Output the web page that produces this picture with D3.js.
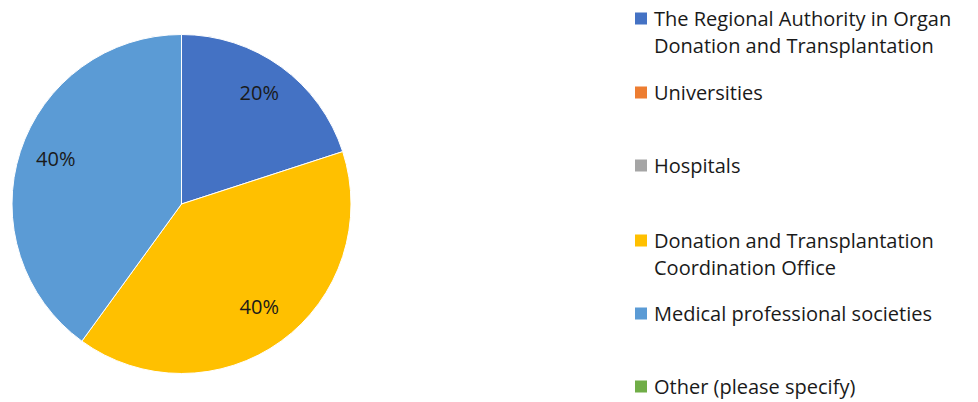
<!DOCTYPE html>
<html>
<head>
<meta charset="utf-8">
<script src="https://cdn.jsdelivr.net/npm/d3@7"></script>
<style>
  body { margin: 0; background: #fff; }
  text { font-family: "Open Sans", "Noto Sans", sans-serif; }
</style>
</head>
<body>
<div id="chart"></div>
<script>
// data
var categories = [
  ["The Regional Authority in Organ", "Donation and Transplantation"],
  ["Universities"],
  ["Hospitals"],
  ["Donation and Transplantation", "Coordination Office"],
  ["Medical professional societies"],
  ["Other (please specify)"]
];
var shares = [20, 0, 0, 40, 40, 0];
var colors = ["#4472C4", "#ED7D31", "#A5A5A5", "#FFC000", "#5B9BD5", "#70AD47"];
var legendY = [19, 93, 166, 241, 314, 387];

var width = 978, height = 402;
var svg = d3.select("#chart").append("svg")
    .attr("width", width)
    .attr("height", height);

var cx = 181.5, cy = 204, r = 169.5;

var pie = d3.pie().sort(null).value(function(d){ return d; });
var arcs = pie(shares);
var arc = d3.arc().innerRadius(0).outerRadius(r);
var labelArc = d3.arc().innerRadius(r * 0.78).outerRadius(r * 0.78);

var g = svg.append("g").attr("transform", "translate(" + cx + "," + cy + ")");

g.selectAll("path")
  .data(arcs.filter(function(d){ return d.value > 0; }))
  .enter().append("path")
    .attr("d", arc)
    .attr("fill", function(d){ return colors[d.index]; })
    .attr("stroke", "#fff")
    .attr("stroke-width", 1);

g.selectAll("text.lbl")
  .data(arcs.filter(function(d){ return d.value > 0; }))
  .enter().append("text")
    .attr("class", "lbl")
    .attr("transform", function(d){
      var c = labelArc.centroid(d);
      return "translate(" + c[0] + "," + (c[1] - 4) + ")";
    })
    .attr("text-anchor", "middle")
    .attr("dy", "0.35em")
    .style("font-size", "20px")
    .style("fill", "#1a1a1a")
    .text(function(d){ return d.value + "%"; });

// legend
var leg = svg.append("g");
var item = leg.selectAll("g")
  .data(categories)
  .enter().append("g")
    .attr("transform", function(d, i){ return "translate(635," + legendY[i] + ")"; });

item.append("rect")
    .attr("x", 0).attr("y", -6.5)
    .attr("width", 12).attr("height", 12)
    .attr("fill", function(d, i){ return colors[i]; });

item.each(function(lines){
  var t = d3.select(this).append("text")
      .attr("x", 19)
      .style("font-size", "20px")
      .style("fill", "#1a1a1a");
  lines.forEach(function(s, j){
    t.append("tspan").attr("x", 19).attr("y", j * 27).attr("dy", "0.35em").text(s);
  });
});
</script>
</body>
</html>
